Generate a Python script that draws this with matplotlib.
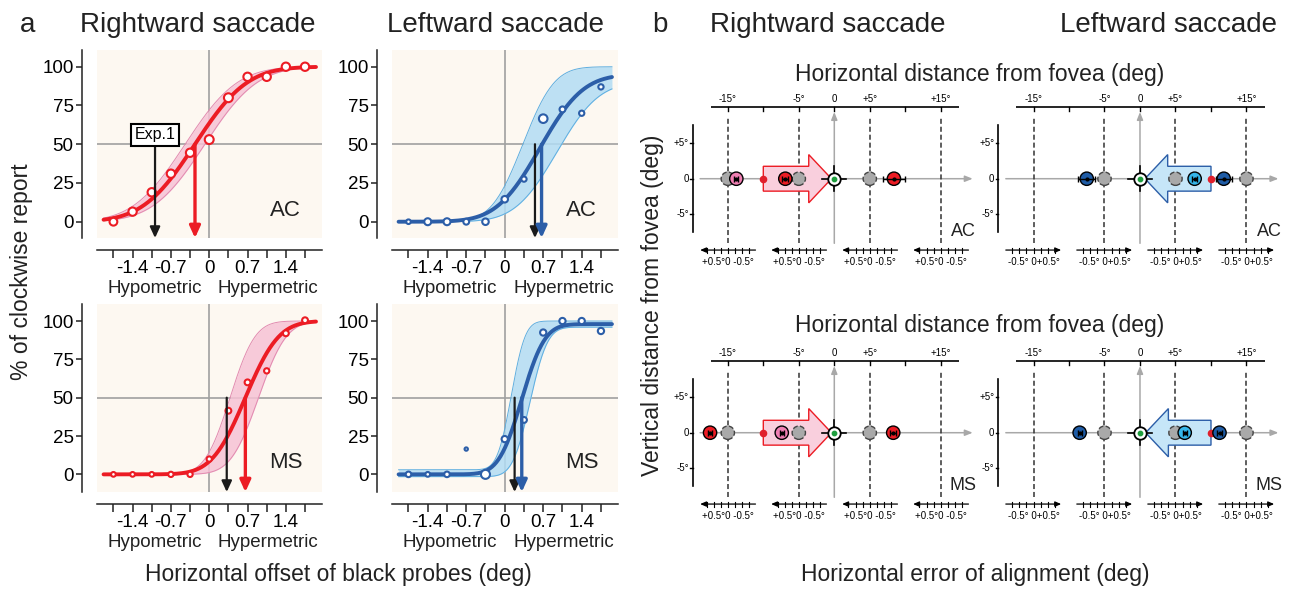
#!/usr/bin/env python3
"""
plot.py
Panel a: psychometric curves (% clockwise vs. horizontal probe offset).
Panel b: schematic of horizontal alignment errors around the fovea.
"""
import math

import numpy as np
import matplotlib
matplotlib.use("Agg")
import matplotlib.pyplot as plt
from matplotlib.patches import FancyArrow

plt.rcParams["font.family"] = ["Liberation Sans", "DejaVu Sans"]
plt.rcParams["axes.unicode_minus"] = False

FIG_W, FIG_H = 1291, 590

RED = "#ec1c24"
BLUE = "#2c5ea8"
CREAM = "#fdf8f1"
PINK_BAND = "#f6c2d5"
PINK_EDGE = "#e28ab0"
BLUE_BAND = "#b2dcf4"
BLUE_EDGE = "#5eaee0"
GRID = "#a0a0a0"
INK = "#222222"

# ---- panel a data: order = right AC, left AC, right MS, left MS ----
probe_x = [-1.75, -1.4, -1.05, -0.7, -0.35, 0.0, 0.35, 0.7, 1.05, 1.4, 1.75]
probe_labels = ["", "-1.4", "", "-0.7", "", "0", "", "0.7", "", "1.4", ""]
pct_ticks = [0, 25, 50, 75, 100]

pct_right_ac = [0, 6.5, 19, 31, 44.5, 53, 80, 93.5, 93.5, 100, 100]
pct_left_ac = [0, 0, 0, 0, 0, 14.5, 27.5, 66.5, 72.5, 70, 87]
pct_right_ms = [0, 0, 0, 0, 0, 10, 41.5, 60, 67.5, 92, 100.5]
pct_left_ms = [0, 0, 0, 16.5, 0, 23, 35.5, 92.5, 100, 100, 93.5]

# marker size follows the number of trials per probe
ms_right_ac = [5.6, 6, 6, 6, 6, 6.4, 6.4, 6, 6, 6, 6]
ms_left_ac = [3.3, 5, 5, 4.2, 4.7, 4.7, 3.8, 6.2, 4.2, 3.8, 3.8]
ms_right_ms = [3.4, 3.4, 3.4, 3.8, 3.8, 3.8, 4.2, 4.2, 3.8, 4.2, 4.2]
ms_left_ms = [4, 3.4, 4, 2.4, 6.5, 4.5, 4.2, 4.5, 4.5, 4.5, 4.5]

# cumulative gaussian fits
fit_pse = [-0.26, 0.64, 0.66, 0.31]
fit_sigma = [0.75, 0.62, 0.48, 0.33]
fit_lapse = [0.0, 0.05, 0.0, 0.02]

# confidence band envelopes (left edge / right edge)
band_l_pse = [-0.44, 0.33, 0.38, 0.12]
band_l_sigma = [0.75, 0.45, 0.36, 0.2]
band_l_guess = [0.0, 0.0, 0.0, 0.03]
band_r_pse = [-0.08, 0.95, 0.90, 0.46]
band_r_sigma = [0.75, 0.6, 0.4, 0.25]
band_r_guess = [0.0, 0.0, 0.0, -0.015]
band_r_lapse = [0.0, 0.1, 0.0, 0.04]

exp1_pse = [-0.99, 0.55, 0.32, 0.18]
subjects = ["AC", "AC", "MS", "MS"]

# ---- panel b data (deg): order = right AC, left AC, right MS, left MS ----
target_lines = [-15, -5, 5, 15]
top_ticks = [-15, -10, -5, 0, 5, 10, 15]
top_labels = {-15: "-15°", -5: "-5°", 0: "0", 5: "+5°", 15: "+15°"}
vert_labels = {5: "+5°", 0: "0", -5: "-5°"}
err_ticks = [-0.75, -0.5, -0.25, 0.0, 0.25, 0.5, 0.75]

probe_pos = [[-15, -5, 5], [-5, 5, 15], [-15, -5, 5], [-5, 5, 15]]
sacc_start = [-10, 10, -10, 10]
sacc_land = [-0.4, 0.7, -0.4, 0.8]
percept_x = [[-13.8, -6.9, 8.4], [-7.5, 7.7, 11.8],
             [-17.5, -7.4, 8.3], [-8.5, 6.3, 11.2]]
percept_err = [[0.3, 0.4, 1.5], [1.2, 0.4, 1.1],
               [0.3, 0.3, 0.4], [0.3, 0.3, 0.3]]
percept_col = [["#f07fb3", RED, RED], ["#1f5ca6", "#35b6ea", "#1f5ca6"],
               [RED, "#f07fb3", RED], ["#1f5ca6", "#35b6ea", "#1f5ca6"]]


def px_rect(x0, y0, x1, y1):
    return [x0 / FIG_W, 1 - y1 / FIG_H, (x1 - x0) / FIG_W, (y1 - y0) / FIG_H]


def fig_text(fig, x, y, s, **kw):
    fig.text(x / FIG_W, 1 - y / FIG_H, s, **kw)


def psy(x, pse, sigma, guess=0.0, lapse=0.0):
    z = (np.asarray(x) - pse) / (sigma * math.sqrt(2))
    phi = 0.5 * (1 + np.vectorize(math.erf)(z))
    return 100 * (guess + (1 - guess - lapse) * phi)


def draw_curve_panel(ax, k, pct, sizes, ylim):
    col = RED if k % 2 == 0 else BLUE
    band, edge = (PINK_BAND, PINK_EDGE) if k % 2 == 0 else (BLUE_BAND, BLUE_EDGE)

    ax.set_facecolor(CREAM)
    ax.set_xlim(-2.05, 2.06)
    ax.set_ylim(*ylim)
    for s in ["top", "right"]:
        ax.spines[s].set_visible(False)
    ax.spines["left"].set_position(("outward", 10.8))
    ax.spines["bottom"].set_position(("outward", 8.6))
    for s in ["left", "bottom"]:
        ax.spines[s].set_linewidth(1.1)
        ax.spines[s].set_color(INK)

    ax.set_xticks(probe_x)
    ax.set_xticklabels(probe_labels)
    ax.set_yticks(pct_ticks)
    ax.tick_params(axis="x", length=6, width=1.1, pad=1.5, labelsize=13.5, color=INK)
    ax.tick_params(axis="y", length=4, width=1.1, pad=2, labelsize=13.5, color=INK)

    ax.axvline(0, color=GRID, lw=1.2, zorder=1)
    ax.axhline(50, color=GRID, lw=1.2, zorder=1)

    xs = np.linspace(-1.93, 1.95, 300)
    lo = psy(xs, band_r_pse[k], band_r_sigma[k], band_r_guess[k], band_r_lapse[k])
    hi = psy(xs, band_l_pse[k], band_l_sigma[k], band_l_guess[k], 0.0)
    ax.fill_between(xs, lo, hi, color=band, alpha=0.85, lw=0, zorder=2)
    ax.plot(xs, lo, color=edge, lw=0.7, zorder=2)
    ax.plot(xs, hi, color=edge, lw=0.7, zorder=2)
    ax.plot(xs, psy(xs, fit_pse[k], fit_sigma[k], 0.0, fit_lapse[k]),
            color=col, lw=2.8, zorder=3, solid_capstyle="round")

    ax.scatter(probe_x, pct, s=np.array(sizes) ** 2, facecolor="white",
               edgecolor=col, linewidths=1.5, zorder=4, clip_on=False)

    ybot = ylim[0]
    ax.annotate("", xy=(exp1_pse[k], ybot), xytext=(exp1_pse[k], 56 if k == 0 else 50),
                arrowprops=dict(arrowstyle="-|>,head_length=0.65,head_width=0.3",
                                color="#1a1a1a", lw=1.6, shrinkA=0, shrinkB=0),
                zorder=5, annotation_clip=False)
    ax.annotate("", xy=(fit_pse[k] + (0.03 if k == 1 else 0), ybot),
                xytext=(fit_pse[k] + (0.03 if k == 1 else 0), 50),
                arrowprops=dict(arrowstyle="-|>,head_length=0.7,head_width=0.32",
                                color=col, lw=2.4, shrinkA=0, shrinkB=0),
                zorder=5, annotation_clip=False)
    if k == 0:
        ax.text(exp1_pse[k], 56, "Exp.1", ha="center", va="center", fontsize=11.5,
                zorder=6, bbox=dict(boxstyle="square,pad=0.22", fc="white",
                                    ec="black", lw=1.5))

    ax.text(1.4, 7.5, subjects[k], ha="center", va="center", fontsize=16, color=INK)
    tr = ax.get_xaxis_transform()
    ax.text(-1.0, -0.268, "Hypometric", transform=tr, ha="center", va="center",
            fontsize=13.5, color=INK)
    ax.text(1.08, -0.268, "Hypermetric", transform=tr, ha="center", va="center",
            fontsize=13.5, color=INK)


def draw_schema_panel(ax, k):
    ax.set_xlim(-24.65, 21.13)
    ax.set_ylim(-13.38, 12.68)
    ax.axis("off")
    rightward = sacc_start[k] < 0

    # top distance axis
    ax.plot([-17.4, 17.6], [10.1, 10.1], color="k", lw=1.2, solid_capstyle="butt")
    for t in top_ticks:
        ax.plot([t, t], [10.1, 9.6], color="k", lw=1.0)
        if t in top_labels:
            ax.text(t, 10.55, top_labels[t], ha="center", va="bottom", fontsize=7)

    # vertical axis
    ax.plot([-19.95, -19.95], [-7.5, 7.6], color="k", lw=1.2)
    for t, lab in vert_labels.items():
        ax.plot([-20.3, -19.95], [t, t], color="k", lw=1.0)
        ax.text(-20.5, t, lab, ha="right", va="center", fontsize=7)

    # probe location guides
    for c in target_lines:
        ax.plot([c, c], [-9.1, 8.6], color="#333333", lw=1.1,
                ls=(0, (3.3, 1.9)), zorder=1.5)

    # gray fovea-centred axes
    gray_arrow = dict(arrowstyle="-|>,head_length=0.45,head_width=0.18",
                      color="#a8a8a8", lw=1.1, shrinkA=0, shrinkB=0)
    ax.annotate("", xy=(19.5, 0), xytext=(-18.9, 0), arrowprops=gray_arrow, zorder=1)
    ax.annotate("", xy=(0, 9.4), xytext=(0, -9.1), arrowprops=gray_arrow, zorder=1)

    # little error axes under each probe location
    sign = -1 if rightward else 1
    err_text = "+0.5°0 -0.5°" if rightward else "-0.5° 0+0.5°"
    for c in target_lines:
        ends = (c + 3.9, c - 3.9) if rightward else (c - 3.9, c + 3.9)
        ax.annotate("", xy=(ends[1], -10.05), xytext=(ends[0], -10.05),
                    arrowprops=dict(arrowstyle="-|>,head_length=0.35,head_width=0.15",
                                    color="k", lw=0.9, shrinkA=0, shrinkB=0))
        for e in err_ticks:
            ax.plot([c + sign * 4 * e] * 2, [-10.4, -9.7], color="k", lw=0.8)
        ax.text(c, -11.75, err_text, ha="center", va="center", fontsize=7)

    # saccade vector
    fill, edge = ("#f9cfdd", RED) if rightward else ("#c6e6f8", BLUE)
    ax.add_patch(FancyArrow(sacc_start[k], 0, sacc_land[k] - sacc_start[k], 0,
                            width=3.5, head_width=6.8, head_length=3.2,
                            length_includes_head=True, fc=fill, ec=edge,
                            lw=1.0, zorder=2))

    # fixation
    ax.plot([-1.7, 1.7], [0, 0], color="k", lw=1.2, zorder=3)
    ax.plot([0, 0], [-1.8, 1.8], color="k", lw=1.2, zorder=3)
    ax.scatter([0], [0], s=80, facecolor="white", edgecolor="k", linewidths=1.3, zorder=4)
    ax.scatter([0], [0], s=10, color="#1e9e3e", zorder=5)

    # probe positions (gray) and perceived positions
    ax.scatter(probe_pos[k], [0] * len(probe_pos[k]), s=92, facecolor="#a9a9a9",
               edgecolor="#444444", linewidths=1.0, linestyle="--", zorder=3)
    ax.scatter([sacc_start[k]], [0], s=20, color="#e0202c", zorder=3.5)
    ax.scatter(percept_x[k], [0] * 3, s=92, facecolor=percept_col[k],
               edgecolor="k", linewidths=1.0, zorder=4)
    ax.errorbar(percept_x[k], [0] * 3, xerr=percept_err[k], fmt="none", ecolor="k",
                elinewidth=1.0, capsize=2.2, capthick=1.0, zorder=5)
    ax.scatter(percept_x[k], [0] * 3, s=4, color="k", zorder=6)

    ax.text(18.2, -7.5, subjects[k], ha="center", va="center", fontsize=13, color=INK)


def main():
    fig = plt.figure(figsize=(FIG_W / 100, FIG_H / 100), dpi=100)

    pct_sets = [pct_right_ac, pct_left_ac, pct_right_ms, pct_left_ms]
    size_sets = [ms_right_ac, ms_left_ac, ms_right_ms, ms_left_ms]
    a_rects = [(97, 50, 322, 238), (392, 50, 618, 238),
               (97, 304, 322, 492), (392, 304, 618, 492)]
    a_ylims = [(-10.5, 110.8), (-10.5, 110.8), (-11.5, 111.1), (-11.5, 111.1)]
    for k in range(4):
        ax = fig.add_axes(px_rect(*a_rects[k]))
        draw_curve_panel(ax, k, pct_sets[k], size_sets[k], a_ylims[k])

    b_centres = [(834.3, 178.7), (1140, 178.7), (834.3, 432.7), (1140, 432.7)]
    for k, (cx, cy) in enumerate(b_centres):
        ax = fig.add_axes(px_rect(cx - 175, cy - 90, cx + 150, cy + 95))
        draw_schema_panel(ax, k)

    # titles and shared labels
    fig_text(fig, 28, 32, "a", fontsize=20, ha="center", va="baseline", color=INK)
    fig_text(fig, 198, 32, "Rightward saccade", fontsize=20, ha="center", va="baseline", color=INK)
    fig_text(fig, 495, 32, "Leftward saccade", fontsize=20, ha="center", va="baseline", color=INK)
    fig_text(fig, 660, 32, "b", fontsize=20, ha="center", va="baseline", color=INK)
    fig_text(fig, 828, 32, "Rightward saccade", fontsize=20, ha="center", va="baseline", color=INK)
    fig_text(fig, 1168, 32, "Leftward saccade", fontsize=20, ha="center", va="baseline", color=INK)

    fig_text(fig, 22, 272, "% of clockwise report", fontsize=16.5, rotation=90,
             ha="center", va="center", color=INK)
    fig_text(fig, 338, 575, "Horizontal offset of black probes (deg)", fontsize=16.5,
             ha="center", va="center", color=INK)
    fig_text(fig, 980, 75, "Horizontal distance from fovea (deg)", fontsize=16.5,
             ha="center", va="center", color=INK)
    fig_text(fig, 980, 326, "Horizontal distance from fovea (deg)", fontsize=16.5,
             ha="center", va="center", color=INK)
    fig_text(fig, 652, 305, "Vertical distance from fovea (deg)", fontsize=16.5,
             rotation=90, ha="center", va="center", color=INK)
    fig_text(fig, 975, 575, "Horizontal error of alignment (deg)", fontsize=16.5,
             ha="center", va="center", color=INK)

    fig.savefig("out.png", dpi=100)
    plt.close(fig)


if __name__ == "__main__":
    main()
